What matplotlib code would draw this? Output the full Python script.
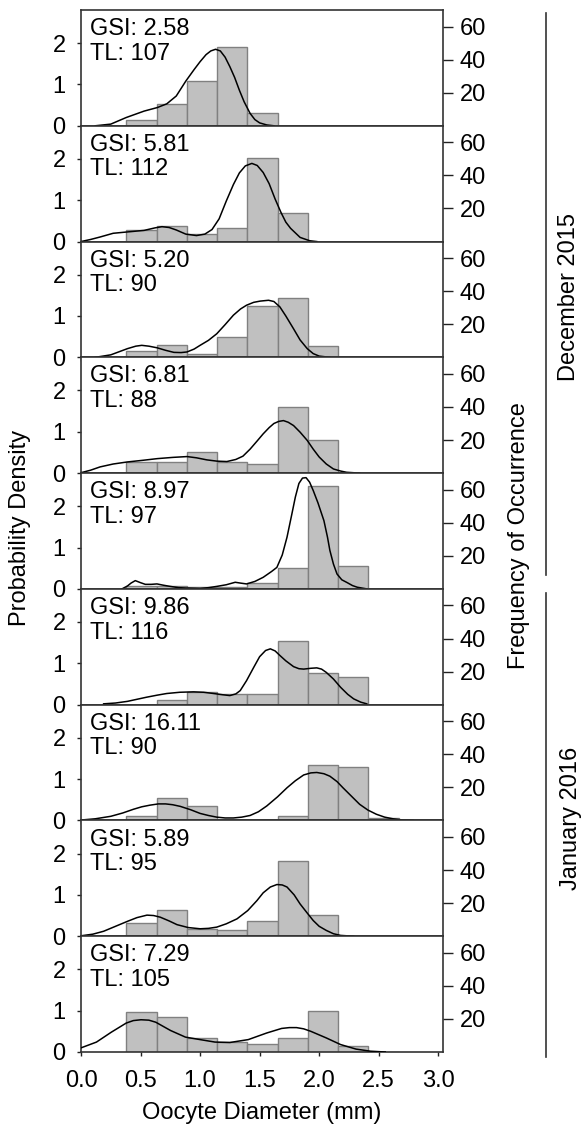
import matplotlib
matplotlib.use('Agg')
import matplotlib.pyplot as plt
from matplotlib.lines import Line2D

plt.rcParams['font.family'] = ['Liberation Sans', 'DejaVu Sans']
plt.rcParams['font.size'] = 17

# histogram bins (mm)
bin_left = [0.381, 0.635, 0.889, 1.143, 1.397, 1.651, 1.905, 2.159, 2.413]
bin_width = 0.254

gsi = ['2.58', '5.81', '5.20', '6.81', '8.97', '9.86', '16.11', '5.89', '7.29']
tl = ['107', '112', '90', '88', '97', '116', '90', '95', '105']

# probability density per bin, one row per fish
bar_heights = [
    [0.15, 0.52, 1.09, 1.91, 0.31, 0, 0, 0, 0],
    [0.27, 0.38, 0.18, 0.33, 2.02, 0.70, 0, 0, 0],
    [0.15, 0.31, 0.07, 0.48, 1.23, 1.43, 0.27, 0, 0],
    [0.27, 0.27, 0.52, 0.27, 0.23, 1.60, 0.79, 0, 0],
    [0.08, 0.07, 0.04, 0.04, 0.14, 0.51, 2.48, 0.55, 0],
    [0, 0.11, 0.30, 0.27, 0.27, 1.55, 0.76, 0.66, 0],
    [0.10, 0.54, 0.34, 0, 0, 0.10, 1.35, 1.30, 0.06],
    [0.31, 0.64, 0.17, 0.15, 0.36, 1.83, 0.51, 0, 0],
    [0.96, 0.84, 0.33, 0.24, 0.20, 0.33, 1.00, 0.14, 0],
]

# kernel density curves
curve_x = [
    [0.12, 0.25, 0.38, 0.53, 0.64, 0.72, 0.80, 0.88, 0.95, 1.00, 1.05, 1.09, 1.13, 1.17, 1.21, 1.25,
     1.29, 1.33, 1.37, 1.42, 1.46, 1.50, 1.56, 1.62],
    [0.0, 0.08, 0.16, 0.27, 0.38, 0.53, 0.62, 0.68, 0.74, 0.80, 0.88, 0.97, 1.04, 1.10, 1.16, 1.22,
     1.28, 1.33, 1.38, 1.435, 1.48, 1.53, 1.58, 1.63, 1.68, 1.72, 1.76, 1.84, 1.92, 1.98],
    [0.12, 0.25, 0.39, 0.46, 0.51, 0.57, 0.64, 0.71, 0.78, 0.84, 0.89, 0.95, 1.0, 1.07, 1.14, 1.21,
     1.28, 1.34, 1.39, 1.45, 1.505, 1.575, 1.62, 1.67, 1.72, 1.785, 1.84, 1.9, 1.95, 2.0, 2.09],
    [0.0, 0.08, 0.16, 0.27, 0.39, 0.52, 0.64, 0.77, 0.89, 0.97, 1.057, 1.14, 1.225, 1.30, 1.36, 1.42,
     1.48, 1.53, 1.58, 1.62, 1.66, 1.70, 1.74, 1.785, 1.84, 1.9, 1.95, 2.0, 2.06, 2.12, 2.18, 2.23, 2.34],
    [0.344, 0.39, 0.42, 0.456, 0.50, 0.54, 0.59, 0.638, 0.69, 0.75, 0.82, 0.89, 1.0, 1.07, 1.14, 1.22,
     1.295, 1.34, 1.39, 1.46, 1.53, 1.60, 1.645, 1.69, 1.73, 1.77, 1.80, 1.83, 1.86, 1.89, 1.92, 1.95,
     1.99, 2.04, 2.07, 2.09, 2.12, 2.15, 2.19, 2.23, 2.28, 2.32, 2.40],
    [0.19, 0.29, 0.39, 0.47, 0.55, 0.64, 0.72, 0.83, 0.945, 1.03, 1.113, 1.19, 1.25, 1.30, 1.337, 1.39,
     1.45, 1.50, 1.55, 1.59, 1.63, 1.67, 1.72, 1.785, 1.83, 1.87, 1.93, 1.98, 2.02, 2.06, 2.12, 2.18,
     2.24, 2.29, 2.35, 2.40],
    [0.0, 0.12, 0.25, 0.35, 0.44, 0.51, 0.58, 0.65, 0.71, 0.77, 0.834, 0.92, 1.0, 1.07, 1.14, 1.21,
     1.28, 1.35, 1.42, 1.49, 1.56, 1.65, 1.73, 1.80, 1.87, 1.93, 1.98, 2.04, 2.09, 2.15, 2.20, 2.27,
     2.34, 2.41, 2.48, 2.55, 2.62, 2.70, 2.79],
    [0.0, 0.10, 0.19, 0.29, 0.39, 0.47, 0.554, 0.61, 0.666, 0.74, 0.806, 0.90, 1.0, 1.07, 1.14, 1.22,
     1.31, 1.40, 1.477, 1.53, 1.59, 1.645, 1.69, 1.73, 1.79, 1.84, 1.90, 1.95, 2.00, 2.06, 2.12, 2.18, 2.29],
    [0.0, 0.13, 0.255, 0.38, 0.44, 0.504, 0.57, 0.628, 0.752, 0.877, 1.0, 1.125, 1.25, 1.405, 1.56,
     1.685, 1.75, 1.81, 1.87, 1.93, 2.06, 2.18, 2.31, 2.43, 2.555],
]
curve_y = [
    [0, 0.04, 0.20, 0.355, 0.44, 0.53, 0.72, 1.08, 1.36, 1.55, 1.72, 1.81, 1.85, 1.81, 1.66, 1.43,
     1.17, 0.86, 0.58, 0.30, 0.15, 0.07, 0.02, 0],
    [0.0, 0.05, 0.11, 0.20, 0.23, 0.27, 0.33, 0.36, 0.34, 0.28, 0.18, 0.145, 0.18, 0.29, 0.55, 0.98,
     1.38, 1.66, 1.83, 1.89, 1.84, 1.67, 1.40, 1.03, 0.70, 0.47, 0.32, 0.10, 0.02, 0],
    [0, 0.06, 0.21, 0.27, 0.29, 0.27, 0.23, 0.17, 0.12, 0.115, 0.13, 0.20, 0.29, 0.41, 0.57, 0.79,
     1.02, 1.17, 1.26, 1.33, 1.36, 1.38, 1.35, 1.22, 1.00, 0.69, 0.42, 0.21, 0.09, 0.03, 0],
    [0.01, 0.07, 0.15, 0.22, 0.27, 0.31, 0.35, 0.38, 0.40, 0.37, 0.32, 0.29, 0.28, 0.33, 0.41, 0.58,
     0.78, 0.95, 1.10, 1.20, 1.25, 1.27, 1.23, 1.15, 0.99, 0.79, 0.58, 0.39, 0.22, 0.10, 0.05, 0.02, 0],
    [0, 0.07, 0.14, 0.20, 0.15, 0.11, 0.11, 0.12, 0.09, 0.06, 0.03, 0.02, 0.01, 0.03, 0.06, 0.10,
     0.16, 0.14, 0.12, 0.18, 0.28, 0.42, 0.52, 0.82, 1.25, 1.80, 2.22, 2.55, 2.68, 2.69, 2.58, 2.38,
     2.08, 1.65, 1.25, 0.93, 0.60, 0.36, 0.22, 0.16, 0.08, 0.04, 0],
    [0.02, 0.04, 0.08, 0.13, 0.18, 0.23, 0.27, 0.30, 0.31, 0.30, 0.27, 0.24, 0.22, 0.26, 0.34, 0.58,
     0.90, 1.16, 1.31, 1.35, 1.30, 1.19, 1.06, 0.92, 0.87, 0.86, 0.88, 0.89, 0.86, 0.78, 0.62, 0.42,
     0.25, 0.14, 0.06, 0.02],
    [0.01, 0.04, 0.10, 0.18, 0.27, 0.33, 0.37, 0.40, 0.40, 0.38, 0.34, 0.26, 0.17, 0.12, 0.08, 0.06,
     0.06, 0.08, 0.12, 0.21, 0.35, 0.57, 0.79, 0.96, 1.10, 1.15, 1.16, 1.13, 1.07, 0.94, 0.79, 0.59,
     0.39, 0.25, 0.15, 0.08, 0.04, 0.01, 0],
    [0.01, 0.05, 0.12, 0.24, 0.36, 0.45, 0.51, 0.50, 0.46, 0.37, 0.28, 0.21, 0.18, 0.19, 0.22, 0.30,
     0.42, 0.62, 0.86, 1.05, 1.19, 1.25, 1.24, 1.19, 1.00, 0.78, 0.56, 0.38, 0.24, 0.14, 0.06, 0.02, 0],
    [0.10, 0.24, 0.48, 0.70, 0.76, 0.78, 0.77, 0.72, 0.52, 0.36, 0.30, 0.24, 0.23, 0.30, 0.46,
     0.57, 0.59, 0.59, 0.56, 0.50, 0.34, 0.18, 0.07, 0.02, 0],
]

W, H = 581, 1127
fig = plt.figure(figsize=(W / 100, H / 100), dpi=100)

left_px, right_px = 81, 443
top_px, bottom_px = 10, 1052
n = len(gsi)
panel_h = (bottom_px - top_px) / n

for i in range(n):
    y_top = top_px + i * panel_h
    ax = fig.add_axes([left_px / W, 1 - (y_top + panel_h) / H,
                       (right_px - left_px) / W, panel_h / H])
    ax.bar(bin_left, bar_heights[i], width=bin_width, align='edge',
           color='#c0c0c0', edgecolor='#808080', linewidth=1.0, zorder=2)
    ax.plot(curve_x[i], curve_y[i], color='black', lw=1.1, zorder=3,
            solid_joinstyle='round')
    ax.set_xlim(0, 3.04)
    ax.set_ylim(0, 2.8)
    ax.set_yticks([0, 1, 2])
    ax.set_xticks([0.0, 0.5, 1.0, 1.5, 2.0, 2.5, 3.0])
    ax.tick_params(direction='out', length=3, width=1, colors='#222222',
                   labelcolor='black')
    ax.tick_params(axis='y', pad=8)
    ax.tick_params(axis='x', pad=10)
    if i < n - 1:
        ax.tick_params(axis='x', labelbottom=False)
    else:
        ax.set_xticklabels(['0.0', '0.5', '1.0', '1.5', '2.0', '2.5', '3.0'])
    for sp in ax.spines.values():
        sp.set_linewidth(1.2)
        sp.set_color('#333333')
    ax.text(0.025, 0.93, f'GSI: {gsi[i]}\nTL: {tl[i]}', transform=ax.transAxes,
            va='top', ha='left', linespacing=1.15)

    ax2 = ax.twinx()
    ax2.set_ylim(0, 70)
    ax2.set_yticks([20, 40, 60])
    ax2.tick_params(direction='out', length=7, width=1, colors='#222222',
                    labelcolor='black', pad=5)
    for sp in ax2.spines.values():
        sp.set_visible(False)

fig.text(0.5 * (left_px + right_px) / W, 1 - 1113 / H, 'Oocyte Diameter (mm)',
         ha='center', va='center')
fig.text(20 / W, 1 - 528 / H, 'Probability Density', rotation=90,
         ha='center', va='center')
fig.text(519 / W, 1 - 536 / H, 'Frequency of Occurrence', rotation=90,
         ha='center', va='center')
fig.text(569 / W, 1 - 297 / H, 'December 2015', rotation=90,
         ha='center', va='center')
fig.text(571 / W, 1 - 818 / H, 'January 2016', rotation=90,
         ha='center', va='center')

fig.add_artist(Line2D([546 / W, 546 / W], [1 - 13 / H, 1 - 575 / H],
                      color='#333333', lw=1.2))
fig.add_artist(Line2D([546 / W, 546 / W], [1 - 593 / H, 1 - 1057 / H],
                      color='#333333', lw=1.2))

fig.savefig('out.png', dpi=100)
